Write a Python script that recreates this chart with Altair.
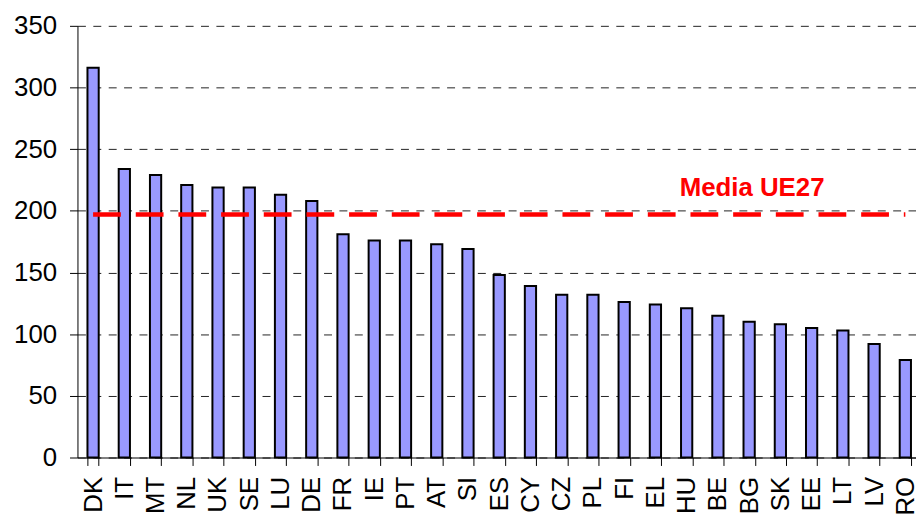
import altair as alt
import pandas as pd

countries = ["DK", "IT", "MT", "NL", "UK", "SE", "LU", "DE", "FR", "IE", "PT", "AT", "SI", "ES",
             "CY", "CZ", "PL", "FI", "EL", "HU", "BE", "BG", "SK", "EE", "LT", "LV", "RO"]
values = [316, 234, 229, 221, 219, 219, 213, 208, 181, 176, 176, 173, 169, 148,
          139, 132, 132, 126, 124, 121, 115, 110, 108, 105, 103, 92, 79]
eu_average = 197
avg_label = "Media UE27"
label_country = "BG"
y_ticks = [0, 50, 100, 150, 200, 250, 300, 350]

FONT = "Liberation Sans, Arial, sans-serif"

bars_df = pd.DataFrame({"country": countries, "value": values})
avg_df = pd.DataFrame({"country": countries, "value": [eu_average] * len(countries)})
label_df = pd.DataFrame({"country": [label_country], "value": [eu_average], "label": [avg_label]})

x_enc = alt.X(
    "country:N",
    sort=countries,
    title=None,
    scale=alt.Scale(paddingInner=0.64, paddingOuter=0.32),
    axis=alt.Axis(
        labelAngle=-90,
        labelFont=FONT,
        labelFontSize=26,
        labelColor="black",
        labelPadding=11,
        tickBand="extent",
        tickSize=8,
        tickColor="black",
        domainColor="black",
        domainWidth=1,
        grid=False,
    ),
)

y_enc = alt.Y(
    "value:Q",
    title=None,
    scale=alt.Scale(domain=[0, 350], nice=False, zero=True),
    axis=alt.Axis(
        values=y_ticks,
        labelFont=FONT,
        labelFontSize=26,
        labelColor="black",
        labelPadding=13,
        tickSize=8,
        tickColor="black",
        domainColor="black",
        grid=True,
        gridColor="#222222",
        gridWidth=1,
        gridDash=[8, 7.5],
    ),
)

bars = alt.Chart(bars_df).mark_bar(
    color="#9999FF", stroke="black", strokeWidth=2
).encode(x=x_enc, y=y_enc)

line = alt.Chart(avg_df).mark_line(
    color="#FF0000", strokeWidth=4.5, strokeDash=[28, 15], strokeCap="butt"
).encode(x=x_enc, y=y_enc)

label = alt.Chart(label_df).mark_text(
    color="#FF0000", font=FONT, fontSize=26, fontWeight="bold",
    baseline="alphabetic", align="center", dy=-19, dx=3
).encode(x=x_enc, y=y_enc, text="label:N")

chart = alt.layer(bars, line, label).properties(
    width=850,
    height=435,
    autosize=alt.AutoSizeParams(type="none"),
    padding={"left": 70, "top": 16, "right": -5, "bottom": 60},
    background="white",
).configure_view(stroke=None)

chart.save("out.html", embed_options={"renderer": "svg", "actions": False})
